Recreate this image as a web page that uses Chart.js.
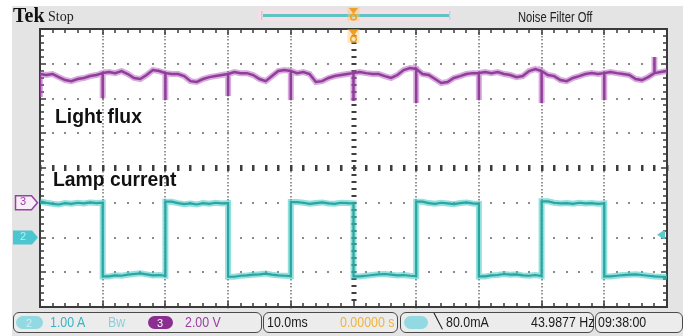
<!DOCTYPE html>
<html>
<head>
<meta charset="utf-8">
<title>Light flux and lamp current</title>
<script src="https://cdn.jsdelivr.net/npm/chart.js@4.4.1/dist/chart.umd.min.js"></script>
<style>
  body { margin: 0; background: #fff; }
  #scope { position: relative; width: 685px; height: 336px; overflow: hidden; }
  #panel { position: absolute; left: 12px; top: 6px; width: 671px; height: 330px; background: #e4e4e4; }
  #plot { position: absolute; left: 0; top: 0; width: 685px; height: 336px; }
  .txt { position: absolute; white-space: nowrap; font-family: "Liberation Sans", Arial, sans-serif; }
  .nar { transform: scaleX(0.8); transform-origin: 0 0; }
  .bar { font-size: 15.5px; line-height: 15.5px; top: 314px; }
  .box { position: absolute; top: 312px; height: 21px; border: 1.5px solid #4a4a4a; border-radius: 6px; background: #ececec; box-sizing: border-box; }
  .pill { position: absolute; top: 316px; height: 13px; border-radius: 7px; }
  .label { font-size: 21px; line-height: 21px; font-weight: bold; color: #111; transform: scaleX(0.92); transform-origin: 0 0; }
</style>
</head>
<body>
<div id="scope">
  <div id="panel"></div>
  <div id="plot"><canvas id="scopeChart"></canvas></div>

  <div class="txt" style="left:13px;top:5px;font:bold 20px/20px 'Liberation Serif',serif;color:#111;">Tek</div>
  <div class="txt" style="left:48px;top:10px;font:14px/14px 'Liberation Serif',serif;color:#222;">Stop</div>
  <div class="txt nar" style="left:518px;top:10px;font-size:14px;line-height:14px;color:#222;">Noise Filter Off</div>

  <div class="txt label" style="left:55px;top:105px;">Light flux</div>
  <div class="txt label" style="left:53px;top:167.5px;">Lamp current</div>

  <div class="txt" style="left:20px;top:196px;font-size:11px;line-height:11px;color:#9b3fa5;">3</div>
  <div class="txt" style="left:20px;top:231px;font-size:11px;line-height:11px;color:#b8ecf0;">2</div>

  <div class="box" style="left:13px;width:249px;"></div>
  <div class="box" style="left:263px;width:135px;"></div>
  <div class="box" style="left:400px;width:194px;"></div>
  <div class="box" style="left:595px;width:88px;"></div>

  <div class="pill" style="left:16px;width:27px;background:#93d9e2;"></div>
  <div class="txt bar" style="left:26px;color:#c8f0f4;font-size:11px;top:316px;">2</div>
  <div class="txt bar nar" style="left:50px;color:#38b4c4;">1.00 A</div>
  <div class="txt bar nar" style="left:108px;color:#8ad0dc;">Bw</div>
  <div class="pill" style="left:148px;width:25px;background:#8a2e90;"></div>
  <div class="txt bar" style="left:157px;color:#fff;font-size:11px;top:316px;">3</div>
  <div class="txt bar nar" style="left:185px;color:#9b3fa5;">2.00 V</div>

  <div class="txt bar nar" style="left:267px;color:#1a1a1a;">10.0ms</div>
  <div class="txt bar nar" style="left:340px;color:#f0b43c;">0.00000 s</div>

  <div class="pill" style="left:404px;width:24px;background:#93d9e2;"></div>
  <div class="txt bar" style="left:434px;color:#1a1a1a;font-size:14px;">&#x2572;</div>
  <div class="txt bar nar" style="left:446px;color:#1a1a1a;">80.0mA</div>
  <div class="txt bar nar" style="left:531px;color:#1a1a1a;">43.9877 Hz</div>
  <div class="txt bar nar" style="left:598px;color:#1a1a1a;">09:38:00</div>
</div>

<script>
// sample clock: 1 ms steps from -50 ms to +50 ms (10.0 ms/div, trigger at 0)
const firstSampleMs = -50;
const sampleStepMs = 1;

// channel 3: light flux (V), 2.00 V/div, ground one division below centre
const ch3VoltsPerDiv = 2;
const ch3OffsetDiv = -1;
const lightFluxV = [
  7.41, 7.35, 7.41, 7.23, 7.06, 7.00, 7.12, 7.18, 7.29, 7.35, 7.46,
  7.52, 7.46, 7.58, 7.41, 7.18, 7.12, 7.35, 7.64, 7.58, 7.46,
  7.41, 7.41, 7.29, 7.00, 6.95, 7.12, 7.23, 7.29, 7.35, 7.41,
  7.52, 7.46, 7.46, 7.35, 7.12, 7.00, 7.29, 7.58, 7.64, 7.58,
  7.46, 7.52, 7.41, 6.95, 7.00, 7.18, 7.29, 7.35, 7.41, 7.46,
  7.52, 7.46, 7.41, 7.41, 7.29, 7.18, 7.35, 7.64, 7.75, 7.70,
  7.41, 7.35, 7.12, 6.89, 6.95, 7.18, 7.29, 7.41, 7.46, 7.46,
  7.52, 7.46, 7.52, 7.41, 7.35, 7.23, 7.29, 7.58, 7.70, 7.58,
  7.35, 7.29, 7.06, 7.00, 7.18, 7.29, 7.41, 7.46, 7.41, 7.46,
  7.52, 7.46, 7.41, 7.35, 7.12, 7.06, 7.23, 7.46, 7.52, 7.58
];
// short glitches in the flux at each current reversal
const lightSpikeMs = [-50, -40, -30, -20, -10, 0, 10, 20, 30, 40, 48];
const lightSpikeV = [6.08, 6.02, 5.91, 6.14, 5.91, 5.85, 5.74, 5.91, 5.74, 5.91, 8.39];

// channel 2: lamp current (A), 1.00 A/div, ground two divisions below centre
const ch2AmpsPerDiv = 1;
const ch2OffsetDiv = -2;
const lampCurrentA = [
  1.04, 1.00, 0.97, 0.95, 0.99, 0.97, 1.00, 0.98, 1.01, 0.99, 1.00,
  -1.12, -1.09, -1.10, -1.07, -1.05, -1.03, -1.06, -1.09, -1.08, -1.10,
  1.03, 0.99, 0.96, 0.98, 0.95, 0.99, 0.97, 1.00, 0.98, 0.99,
  -1.13, -1.10, -1.09, -1.07, -1.06, -1.04, -1.07, -1.09, -1.10, -1.11,
  1.02, 1.00, 0.97, 0.99, 1.01, 0.98, 0.97, 1.00, 0.99, 0.98,
  -1.12, -1.10, -1.08, -1.06, -1.05, -1.07, -1.09, -1.08, -1.10, -1.11,
  1.03, 0.99, 0.97, 1.00, 0.98, 0.96, 0.99, 1.01, 0.98, 0.97,
  -1.12, -1.09, -1.08, -1.05, -1.07, -1.06, -1.09, -1.10, -1.08, -1.11,
  1.04, 1.00, 0.98, 0.99, 0.97, 1.00, 0.98, 0.99, 0.97, 0.98,
  -1.12, -1.10, -1.08, -1.07, -1.06, -1.08, -1.10, -1.12, -1.13, -1.14
];
const currentEdgesMs = [-40, -30, -20, -10, 0, 10, 20, 30, 40];
const triggerLevelA = 0.08;

// build traces in screen divisions
var lightPoints = [];
lightFluxV.forEach(function (v, i) {
  var t = firstSampleMs + i * sampleStepMs;
  var yDiv = v / ch3VoltsPerDiv + ch3OffsetDiv;
  lightPoints.push({ x: t, y: yDiv });
  var s = lightSpikeMs.indexOf(t);
  if (s >= 0) {
    lightPoints.push({ x: t, y: lightSpikeV[s] / ch3VoltsPerDiv + ch3OffsetDiv });
    lightPoints.push({ x: t, y: yDiv });
  }
});

var currentPoints = [];
lampCurrentA.forEach(function (a, i) {
  var t = firstSampleMs + i * sampleStepMs;
  currentPoints.push({ x: t, y: a / ch2AmpsPerDiv + ch2OffsetDiv });
  if (currentEdgesMs.indexOf(t) >= 0) {
    currentPoints.push({ x: t, y: lampCurrentA[i + 1] / ch2AmpsPerDiv + ch2OffsetDiv });
  }
});

function pentagon(ctx, left, tip, cy, h) {
  ctx.beginPath();
  ctx.moveTo(left, cy - h);
  ctx.lineTo(tip - 6, cy - h);
  ctx.lineTo(tip, cy);
  ctx.lineTo(tip - 6, cy + h);
  ctx.lineTo(left, cy + h);
  ctx.closePath();
}

function triggerMark(ctx, cx, top) {
  ctx.fillStyle = 'rgba(250,200,120,0.45)';
  ctx.fillRect(cx - 6, top - 1, 12, 14);
  ctx.fillStyle = '#f0a020';
  ctx.beginPath();
  ctx.moveTo(cx - 4.5, top);
  ctx.lineTo(cx + 4.5, top);
  ctx.lineTo(cx, top + 6);
  ctx.closePath();
  ctx.fill();
  ctx.strokeStyle = '#f0a020';
  ctx.lineWidth = 1.5;
  ctx.beginPath();
  ctx.arc(cx, top + 9, 2.8, 0, Math.PI * 2);
  ctx.stroke();
}

// graticule, borders, channel and trigger markers
const scopeScreen = {
  id: 'scopeScreen',
  beforeDatasetsDraw(chart) {
    const { ctx, chartArea: a, scales: { x, y } } = chart;
    ctx.save();
    ctx.fillStyle = '#ffffff';
    ctx.fillRect(a.left, a.top, a.width, a.height);

    // dotted division lines
    ctx.fillStyle = '#959595';
    for (let d = -4; d <= 4; d++) {
      if (d === 0) continue;
      const px = Math.round(x.getPixelForValue(d * 10));
      for (let k = -40; k <= 40; k++) {
        const py = Math.round(y.getPixelForValue(k / 10));
        ctx.fillRect(px - 1, py, 2, 1.5);
      }
    }
    ctx.fillStyle = '#8a8a8a';
    for (let d = -3; d <= 3; d++) {
      if (d === 0) continue;
      const py = Math.round(y.getPixelForValue(d));
      for (let k = -25; k <= 25; k++) {
        const px = Math.round(x.getPixelForValue(k * 2));
        ctx.fillRect(px - 1, py - 1, 2, 2);
      }
    }

    // centre cross with heavier ticks
    ctx.fillStyle = '#3e3e3e';
    const cx = Math.round(x.getPixelForValue(0));
    for (let k = -20; k <= 20; k++) {
      const py = Math.round(y.getPixelForValue(k / 5));
      ctx.fillRect(cx - 2.5, py - 1, 5, 2);
    }
    const cy = Math.round(y.getPixelForValue(0));
    for (let k = -25; k <= 25; k++) {
      const px = Math.round(x.getPixelForValue(k * 2));
      ctx.fillRect(px - 1, cy - 3, 2.5, 6);
    }

    // frame with ruler ticks
    ctx.strokeStyle = '#3a3a3a';
    ctx.lineWidth = 2;
    ctx.strokeRect(a.left, a.top, a.width, a.height);
    ctx.lineWidth = 1.5;
    ctx.beginPath();
    for (let k = -25; k <= 25; k++) {
      const px = Math.round(x.getPixelForValue(k * 2));
      const len = k % 5 === 0 ? 6 : 4;
      ctx.moveTo(px, a.top); ctx.lineTo(px, a.top + len);
      ctx.moveTo(px, a.bottom); ctx.lineTo(px, a.bottom - len);
    }
    for (let k = -20; k <= 20; k++) {
      const py = Math.round(y.getPixelForValue(k / 5));
      const len = k % 5 === 0 ? 6 : 4;
      ctx.moveTo(a.left, py); ctx.lineTo(a.left + len, py);
      ctx.moveTo(a.right, py); ctx.lineTo(a.right - len, py);
    }
    ctx.stroke();
    ctx.restore();
  },
  afterDraw(chart) {
    const { ctx, chartArea: a, scales: { x, y } } = chart;
    ctx.save();

    // channel ground markers on the left edge
    const y3 = y.getPixelForValue(ch3OffsetDiv);
    pentagon(ctx, 15.5, 37.5, y3, 7);
    ctx.fillStyle = '#f7eef7';
    ctx.fill();
    ctx.strokeStyle = '#9b3fa5';
    ctx.lineWidth = 1.5;
    ctx.stroke();

    const y2 = y.getPixelForValue(ch2OffsetDiv);
    pentagon(ctx, 13, 38, y2, 7);
    ctx.fillStyle = '#4cc6d0';
    ctx.fill();

    // trigger level on the right edge
    const yt = y.getPixelForValue(triggerLevelA / ch2AmpsPerDiv + ch2OffsetDiv);
    ctx.fillStyle = '#5ccaca';
    ctx.beginPath();
    ctx.moveTo(a.right - 10, yt);
    ctx.lineTo(a.right - 4, yt - 4);
    ctx.lineTo(a.right - 2, yt - 4);
    ctx.lineTo(a.right - 2, yt + 4);
    ctx.lineTo(a.right - 4, yt + 4);
    ctx.closePath();
    ctx.fill();

    // record overview bar
    ctx.fillStyle = '#f7dde5';
    ctx.fillRect(258, 10, 194, 11);
    ctx.fillStyle = '#5cc6c2';
    ctx.fillRect(263, 14, 186, 3);
    ctx.fillStyle = '#a6e0e0';
    ctx.fillRect(261, 11, 1.5, 9);
    ctx.fillRect(449, 11, 1.5, 9);

    // trigger position
    const tx = x.getPixelForValue(0);
    triggerMark(ctx, tx, 8);
    triggerMark(ctx, tx, 30);
    ctx.restore();
  }
};

const data = {
  datasets: [
    { label: 'Light flux halo', data: lightPoints, borderColor: 'rgba(178,90,188,0.5)', borderWidth: 6 },
    { label: 'Light flux', data: lightPoints, borderColor: '#6f2279', borderWidth: 2.5 },
    { label: 'Lamp current halo', data: currentPoints, borderColor: 'rgba(60,196,196,0.55)', borderWidth: 6 },
    { label: 'Lamp current', data: currentPoints, borderColor: '#14806f', borderWidth: 2.2 }
  ]
};

const config = {
  type: 'scatter',
  data: data,
  options: {
    responsive: true,
    maintainAspectRatio: false,
    animation: false,
    showLine: true,
    layout: { padding: { left: 40, right: 18, top: 29, bottom: 29 } },
    elements: { point: { radius: 0, hoverRadius: 0 }, line: { tension: 0 } },
    plugins: { legend: { display: false }, tooltip: { enabled: false } },
    scales: {
      x: { type: 'linear', min: -50, max: 50, display: false },
      y: { type: 'linear', min: -4, max: 4, display: false }
    }
  },
  plugins: [scopeScreen]
};

const myChart = new Chart(document.getElementById('scopeChart'), config);
</script>
</body>
</html>
